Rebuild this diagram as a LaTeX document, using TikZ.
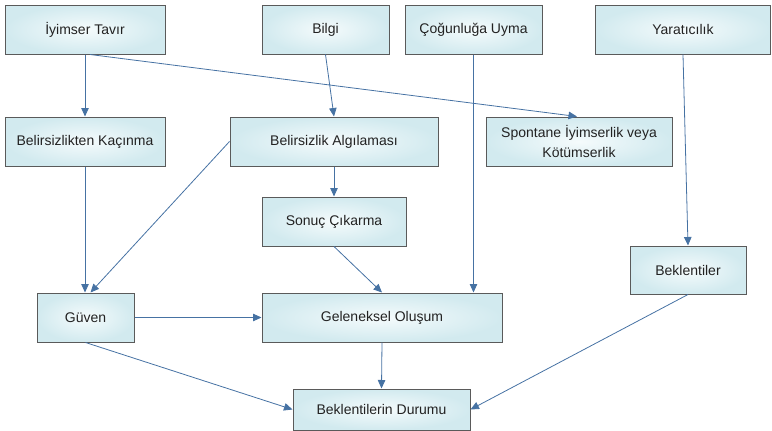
\documentclass[tikz,border=0pt]{standalone}
\usepackage{fontspec}
\setmainfont{Liberation Sans}
\usetikzlibrary{arrows.meta}
\definecolor{edgecol}{HTML}{5A5A5A}
\definecolor{arrcol}{HTML}{4672A3}
\definecolor{boxin}{HTML}{F5FBFC}
\definecolor{boxout}{HTML}{D2EAEF}
\definecolor{txt}{HTML}{222222}
\tikzset{
  box/.style={rectangle, draw=edgecol, line width=1pt, shade, shading=radial,
    inner color=boxin, outer color=boxout, text=txt, align=center,
    font=\fontsize{14}{19.5}\selectfont, inner sep=0pt},
  conn/.style={draw=arrcol, line width=0.8pt, -{Triangle[length=8.5pt,width=7.5pt]}}
}
\begin{document}
\begin{tikzpicture}[x=1pt,y=-1pt]
\useasboundingbox (0,0) rectangle (772,431);
\node[box, minimum width=160, minimum height=49] (iyimser) at (85,29.5) {İyimser Tavır};
\node[box, minimum width=127, minimum height=49] (bilgi) at (325.5,29.5) {Bilgi};
\node[box, minimum width=137, minimum height=49] (cogunluga) at (473.5,29.5) {Çoğunluğa Uyma};
\node[box, minimum width=175, minimum height=49] (yaratici) at (683,29.5) {Yaratıcılık};
\node[box, minimum width=160, minimum height=49] (kacinma) at (85,141.5) {Belirsizlikten Kaçınma};
\node[box, minimum width=208, minimum height=49] (algilama) at (334,141.5) {Belirsizlik Algılaması};
\node[box, minimum width=186, minimum height=49] (spontane) at (579,141.5) {Spontane İyimserlik veya\\Kötümserlik};
\node[box, minimum width=144, minimum height=49] (sonuc) at (334,221.5) {Sonuç Çıkarma};
\node[box, minimum width=97, minimum height=49] (guven) at (85.5,317.5) {Güven};
\node[box, minimum width=240, minimum height=49] (geleneksel) at (382,317.5) {Geleneksel Oluşum};
\node[box, minimum width=116, minimum height=48] (beklentiler) at (688,270) {Beklentiler};
\node[box, minimum width=177, minimum height=41] (durum) at (381.5,409.5) {Beklentilerin Durumu};

\draw[conn] (iyimser.south) -- (kacinma.north);
\draw[conn] ([xshift=5]iyimser.south) -- ([xshift=-2]spontane.north);
\draw[conn] (bilgi.south) -- (algilama.north);
\draw[conn] (cogunluga.south) -- (cogunluga.south |- geleneksel.north);
\draw[conn] (yaratici.south) -- (beklentiler.north);
\draw[conn] (kacinma.south) -- (kacinma.south |- guven.north);
\draw[conn] (algilama.west) -- ([xshift=5]guven.north);
\draw[conn] (algilama.south) -- (sonuc.north);
\draw[conn] (sonuc.south) -- (geleneksel.north);
\draw[conn] (guven.east) -- (geleneksel.west);
\draw[conn] (guven.south) -- (durum.west);
\draw[conn] (geleneksel.south) -- (durum.north);
\draw[conn] (beklentiler.south) -- (durum.east);
\end{tikzpicture}
\end{document}
